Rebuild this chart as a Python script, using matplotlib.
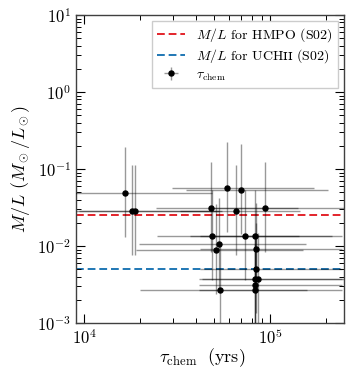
import numpy as np
import matplotlib
matplotlib.use("Agg")
import matplotlib.pyplot as plt

plt.rcParams['font.family'] = ['cmr10', 'DejaVu Serif']
plt.rcParams['mathtext.fontset'] = 'cm'
# 'custom' set is only used for the UCHII legend entry (small caps glyph)
plt.rcParams['mathtext.rm'] = 'cmr10'
plt.rcParams['mathtext.it'] = 'cmmi10'
plt.rcParams['mathtext.sf'] = 'DejaVu Serif'
plt.rcParams['axes.formatter.use_mathtext'] = True
plt.rcParams['axes.unicode_minus'] = False

# chemical age (yrs) and M/L (Msun/Lsun)
tau = np.array([16500, 18000, 18700, 48300, 58900, 69800, 65100, 94300, 48800, 73400,
                83100, 52900, 51300, 83400, 83400, 82700, 85800, 82700, 53600, 82700])
tau_lo = np.array([8280, 9040, 9390, 24200, 29600, 35000, 32700, 47300, 24500, 36800,
                   41700, 19600, 19000, 41900, 41900, 41500, 43100, 41500, 19800, 41500])
tau_hi = np.array([48500, 52900, 55000, 142000, 173000, 205000, 144000, 277000, 143000, 216000,
                   244000, 156000, 151000, 245000, 245000, 243000, 252000, 243000, 158000, 243000])

ml = np.array([0.0488, 0.0285, 0.0285, 0.0312, 0.0560, 0.0533, 0.0285, 0.0312, 0.0135, 0.0135,
               0.0135, 0.0106, 0.00887, 0.00914, 0.00497, 0.00368, 0.00368, 0.00314, 0.00265, 0.00265])
ml_lo = np.array([0.0131, 0.00767, 0.00767, 0.00839, 0.0151, 0.01434, 0.00767, 0.00839, 0.00363, 0.00363,
                  0.00363, 0.00285, 0.00239, 0.00246, 0.00134, 0.00099, 0.00099, 0.000845, 0.000713, 0.000713])
ml_hi = np.array([0.194, 0.1134, 0.1134, 0.124, 0.223, 0.212, 0.1134, 0.124, 0.0537, 0.0537,
                  0.0537, 0.0422, 0.0353, 0.0364, 0.0198, 0.01465, 0.01465, 0.0125, 0.01055, 0.01055])

ml_hmpo = 0.025
ml_uchii = 0.005

fig, ax = plt.subplots(figsize=(3.54, 3.81), dpi=100)
fig.subplots_adjust(left=0.2147, right=0.9718, top=0.9606, bottom=0.1522)

ax.axhline(ml_hmpo, color='#e3242b', ls=(0, (4, 2)), lw=1.4, label=r'$M/L$ for HMPO (S02)', zorder=1)
ax.axhline(ml_uchii, color='#1f77b4', ls=(0, (4, 2)), lw=1.4,
           label=r'$M/L$ for UCH$\mathsf{ɪɪ}$ (S02)', zorder=1)

ax.errorbar(tau, ml, xerr=[tau - tau_lo, tau_hi - tau], yerr=[ml - ml_lo, ml_hi - ml],
            fmt='o', color='k', ms=3.6, ecolor=(0, 0, 0, 0.4), elinewidth=1.0, capsize=0,
            label=r'$\tau_\mathrm{chem}$', zorder=3)

ax.set_xscale('log')
ax.set_yscale('log')
ax.set_xlim(9e3, 2.5e5)
ax.set_ylim(1e-3, 10)

ax.set_xlabel(r'$\tau_\mathrm{chem}\ \ \mathrm{(yrs)}$', fontsize=13)
ax.set_ylabel(r'$M/L\ (M_\odot/L_\odot)$', fontsize=13)
ax.xaxis.set_label_coords(0.47, -0.075)

ax.tick_params(which='both', direction='in', top=True, right=True, labelsize=12)
ax.tick_params(which='major', length=6.5, width=0.8)
ax.tick_params(which='minor', length=3.4, width=0.7)
for s in ax.spines.values():
    s.set_color('0.25')
    s.set_linewidth(1.0)

leg = ax.legend(loc='upper right', fontsize=10, fancybox=False, edgecolor='0.8', framealpha=1,
                labelspacing=0.25, borderaxespad=0.4)
leg.get_texts()[1].set_math_fontfamily('custom')

fig.savefig('out.png', dpi=100)
